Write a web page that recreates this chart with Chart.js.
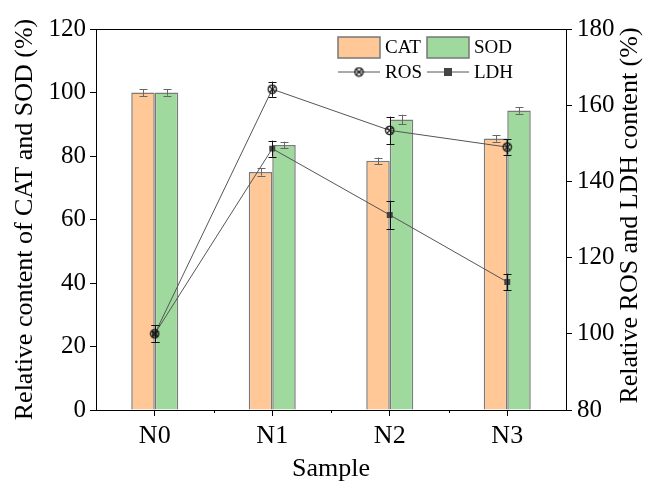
<!DOCTYPE html>
<html>
<head>
<meta charset="utf-8">
<script src="https://cdn.jsdelivr.net/npm/chart.js@4.4.0/dist/chart.umd.min.js"></script>
<style>
  html, body { margin: 0; padding: 0; background: #fff; }
  #wrap { width: 649px; height: 482px; }
</style>
</head>
<body>
<div id="wrap"><canvas id="grafico" width="649" height="482"></canvas></div>
<script>
var campioni = ['N0', 'N1', 'N2', 'N3'];
var cat = [100, 75, 78.5, 85.5];
var catErr = [1.1, 1.2, 1.0, 1.0];
var sod = [100, 83.5, 91.5, 94.3];
var sodErr = [1.0, 1.0, 1.5, 1.0];
var ros = [100, 164.2, 153.4, 149];
var rosErr = [2.2, 2.0, 3.6, 2.0];
var ldh = [100, 148.6, 131.2, 113.6];
var ldhErr = [2.2, 2.1, 3.7, 2.2];

var font = '"Liberation Serif", "Times New Roman", serif';

// marker ROS: cerchio con croce
function markerRos() {
    var c = document.createElement('canvas');
    c.width = 11; c.height = 11;
    var g = c.getContext('2d');
    g.strokeStyle = '#111';
    g.lineWidth = 1.2;
    g.beginPath();
    g.arc(5.5, 5.5, 4.2, 0, Math.PI * 2);
    g.stroke();
    g.beginPath();
    g.moveTo(2.6, 2.6); g.lineTo(8.4, 8.4);
    g.moveTo(8.4, 2.6); g.lineTo(2.6, 8.4);
    g.stroke();
    return c;
}
var rosPt = markerRos();

var erroriPlugin = {
    id: 'errori',
    afterDatasetDraw: function(chart, args) {
        var ds = chart.data.datasets[args.index];
        if (!ds.errors) return;
        var ctx = chart.ctx;
        var scala = chart.scales[args.meta.yAxisID];
        ctx.save();
        ctx.strokeStyle = ds.errColor;
        ctx.lineWidth = 1;
        args.meta.data.forEach(function(el, i) {
            var v = ds.data[i], e = ds.errors[i];
            var y1 = scala.getPixelForValue(v + e);
            var y2 = scala.getPixelForValue(v - e);
            var x = Math.round(el.x) + 0.5;
            ctx.beginPath();
            ctx.moveTo(x, y1); ctx.lineTo(x, y2);
            ctx.moveTo(x - 4, Math.round(y1) + 0.5); ctx.lineTo(x + 4, Math.round(y1) + 0.5);
            ctx.moveTo(x - 4, Math.round(y2) + 0.5); ctx.lineTo(x + 4, Math.round(y2) + 0.5);
            ctx.stroke();
        });
        ctx.restore();
    }
};

var cornicePlugin = {
    id: 'cornice',
    afterDraw: function(chart) {
        var ctx = chart.ctx;
        var a = chart.chartArea;
        var sx = chart.scales.x;
        ctx.save();
        ctx.strokeStyle = '#000';
        ctx.lineWidth = 1;
        ctx.beginPath();
        ctx.moveTo(a.left, a.top + 0.5);
        ctx.lineTo(a.right, a.top + 0.5);
        // tacche minori tra le categorie
        for (var i = 0; i < campioni.length - 1; i++) {
            var xm = Math.round((sx.getPixelForValue(i) + sx.getPixelForValue(i + 1)) / 2) + 0.5;
            ctx.moveTo(xm, a.bottom);
            ctx.lineTo(xm, a.bottom + 3);
        }
        ctx.stroke();

        // titolo asse destro (letto dal basso verso l'alto)
        ctx.save();
        ctx.translate(630, (a.top + a.bottom) / 2 - 4);
        ctx.rotate(-Math.PI / 2);
        ctx.fillStyle = '#000';
        ctx.font = '26px ' + font;
        ctx.textAlign = 'center';
        ctx.textBaseline = 'middle';
        ctx.fillText('Relative ROS and LDH content (%)', 0, 0);
        ctx.restore();

        // legenda 2x2
        var x0 = 338, x1 = 427, w = 42;
        ctx.lineWidth = 1.5;
        ctx.fillStyle = '#FFC896';
        ctx.strokeStyle = '#777';
        ctx.fillRect(x0, 37, w, 21); ctx.strokeRect(x0, 37, w, 21);
        ctx.fillStyle = '#9FD99D';
        ctx.fillRect(x1, 37, w, 21); ctx.strokeRect(x1, 37, w, 21);
        ctx.strokeStyle = '#555';
        ctx.lineWidth = 1;
        ctx.beginPath();
        ctx.moveTo(x0, 72); ctx.lineTo(x0 + w, 72);
        ctx.moveTo(x1, 72); ctx.lineTo(x1 + w, 72);
        ctx.stroke();
        ctx.drawImage(rosPt, x0 + w / 2 - 5.5, 72 - 5.5);
        ctx.fillStyle = '#444';
        ctx.fillRect(x1 + w / 2 - 4, 72 - 4, 8, 8);
        ctx.fillStyle = '#000';
        ctx.font = '19px ' + font;
        ctx.textBaseline = 'middle';
        ctx.fillText('CAT', x0 + w + 5, 48);
        ctx.fillText('SOD', x1 + w + 5, 48);
        ctx.fillText('ROS', x0 + w + 5, 73);
        ctx.fillText('LDH', x1 + w + 5, 73);
        ctx.restore();
    }
};

var ctx = document.getElementById('grafico').getContext('2d');
var chart = new Chart(ctx, {
    type: 'bar',
    data: {
        labels: campioni,
        datasets: [{
            label: 'CAT',
            data: cat,
            errors: catErr,
            errColor: '#666',
            backgroundColor: '#FFC896',
            borderColor: '#7a7a7a',
            borderWidth: 1.5,
            categoryPercentage: 0.4,
            barPercentage: 1.0,
            yAxisID: 'y',
            order: 2
        }, {
            label: 'SOD',
            data: sod,
            errors: sodErr,
            errColor: '#666',
            backgroundColor: '#9FD99D',
            borderColor: '#7a7a7a',
            borderWidth: 1.5,
            categoryPercentage: 0.4,
            barPercentage: 1.0,
            yAxisID: 'y',
            order: 2
        }, {
            type: 'line',
            label: 'ROS',
            data: ros,
            errors: rosErr,
            errColor: '#111',
            borderColor: '#555',
            borderWidth: 1,
            pointStyle: rosPt,
            pointRadius: 5,
            fill: false,
            yAxisID: 'y1',
            order: 1
        }, {
            type: 'line',
            label: 'LDH',
            data: ldh,
            errors: ldhErr,
            errColor: '#111',
            borderColor: '#555',
            borderWidth: 1,
            pointStyle: 'rect',
            pointRadius: 4.2,
            pointBackgroundColor: '#444',
            pointBorderColor: '#444',
            pointBorderWidth: 0,
            fill: false,
            yAxisID: 'y1',
            order: 1
        }]
    },
    options: {
        responsive: false,
        animation: false,
        layout: { padding: { top: 29, left: 0, right: 0, bottom: 0 } },
        plugins: {
            legend: { display: false },
            tooltip: { enabled: false }
        },
        scales: {
            x: {
                offset: true,
                grid: { display: true, drawOnChartArea: false, offset: false, tickLength: 6, color: '#000' },
                border: { color: '#000', width: 1 },
                ticks: { color: '#000', font: { family: font, size: 26 }, padding: 5 },
                title: { display: true, text: 'Sample', color: '#000', font: { family: font, size: 26 }, padding: { top: 0, bottom: -3 } },
                afterFit: function(s) { s.height = 72; }
            },
            y: {
                position: 'left',
                min: 0, max: 120,
                ticks: { stepSize: 20, color: '#000', font: { family: font, size: 25 }, padding: 4 },
                grid: { drawOnChartArea: false, tickLength: 6, color: '#000' },
                border: { color: '#000', width: 1 },
                title: { display: true, text: 'Relative content of CAT and SOD (%)', color: '#000', font: { family: font, size: 26 }, padding: { top: 10, bottom: 0 } },
                afterFit: function(s) { s.width = 96; }
            },
            y1: {
                position: 'right',
                min: 80, max: 180,
                ticks: { stepSize: 20, color: '#000', font: { family: font, size: 25 }, padding: 5 },
                grid: { drawOnChartArea: false, tickLength: 6, color: '#000' },
                border: { color: '#000', width: 1 },
                title: { display: false },
                afterFit: function(s) { s.width = 83; }
            }
        }
    },
    plugins: [erroriPlugin, cornicePlugin]
});
</script>
</body>
</html>
